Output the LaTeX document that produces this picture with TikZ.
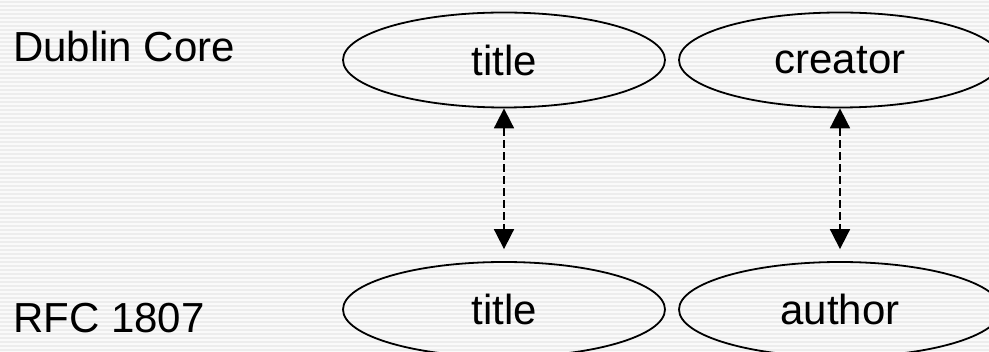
\documentclass[tikz,border=0pt]{standalone}
\usepackage{fontspec}
\setmainfont{Liberation Sans}
\usetikzlibrary{shapes.geometric,arrows.meta}
\begin{document}
\begin{tikzpicture}[x=1pt,y=-1pt,
  field/.style={ellipse,draw=black,line width=1.8pt,minimum width=322pt,minimum height=95pt,inner sep=0pt,
    font=\fontsize{42}{48}\selectfont},
  lbl/.style={anchor=base west,inner sep=0pt,font=\fontsize{42}{48}\selectfont},
  maplink/.style={line width=1.8pt,dash pattern=on 8pt off 4pt,
    {Triangle[length=20pt,width=20pt]}-{Triangle[length=20pt,width=20pt]}}
]
\clip (0,0) rectangle (989,352);
\fill[white!96!gray] (0,0) rectangle (989,352);
\foreach \y in {2,6,...,352} {\draw[black!7,line width=1.2pt] (0,\y) -- (989,\y);}
\node[lbl] (dc) at (13,62) {Dublin Core};
\node[lbl] (rfc) at (13,333) {RFC 1807};
\node[field] (t1) at (504,60) {title};
\node[field] (c1) at (840,60) {creator};
\node[field] (t2) at (504,309.5) {title};
\node[field] (a2) at (840,309.5) {author};
\draw[maplink,shorten >=12pt] (t1.south) -- (t2.north);
\draw[maplink,shorten >=12pt] (c1.south) -- (a2.north);
\end{tikzpicture}
\end{document}
